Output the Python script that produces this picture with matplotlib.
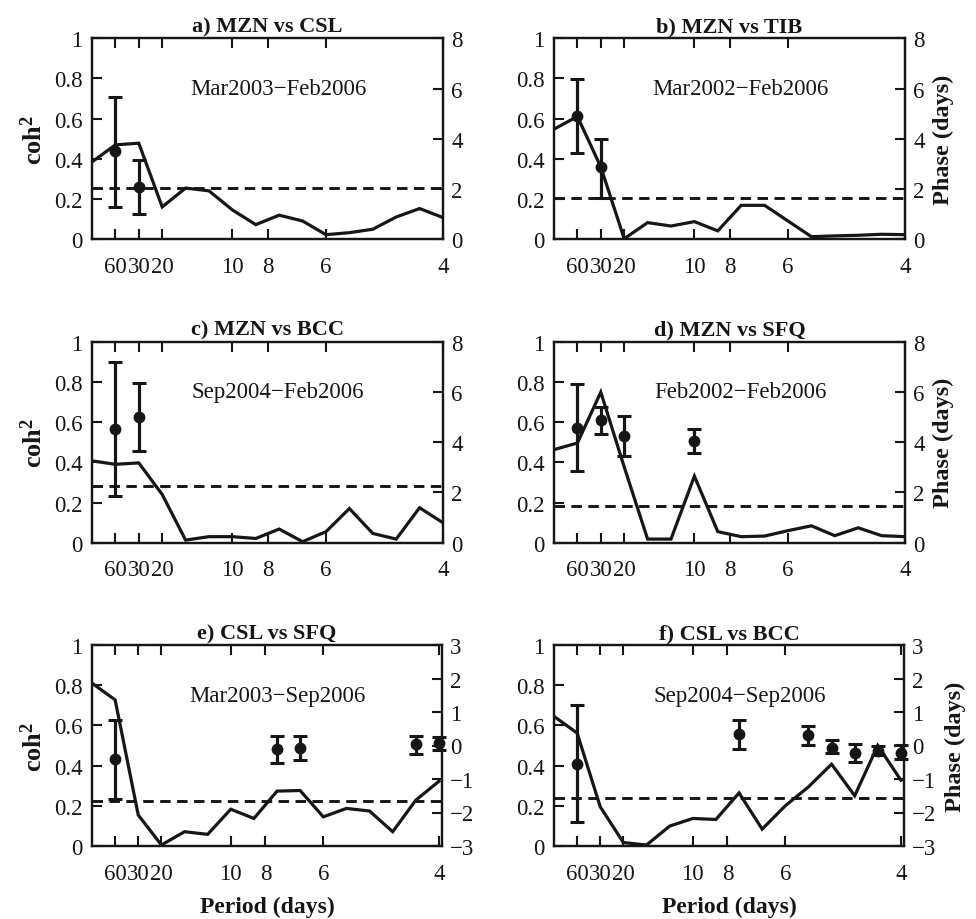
import matplotlib
matplotlib.use('Agg')
import matplotlib.pyplot as plt

plt.rcParams['font.family'] = ['Liberation Serif', 'DejaVu Serif']
plt.rcParams['mathtext.fontset'] = 'custom'
plt.rcParams['mathtext.rm'] = 'Liberation Serif'
plt.rcParams['mathtext.bf'] = 'Liberation Serif:bold'

# frequency (cycles/day) of each spectral estimate
freq = [0.0, 0.01667, 0.03333, 0.05, 0.06667, 0.08333, 0.1, 0.11667,
        0.13333, 0.15, 0.16667, 0.18333, 0.2, 0.21667, 0.23333, 0.25]
period_ticks = [60, 30, 20, 10, 8, 6, 4]

titles = ['a) MZN vs CSL', 'b) MZN vs TIB', 'c) MZN vs BCC',
          'd) MZN vs SFQ', 'e) CSL vs SFQ', 'f) CSL vs BCC']
periods_txt = ['Mar2003\u2212Feb2006', 'Mar2002\u2212Feb2006', 'Sep2004\u2212Feb2006',
               'Feb2002\u2212Feb2006', 'Mar2003\u2212Sep2006', 'Sep2004\u2212Sep2006']

coh_a = [0.385, 0.47, 0.478, 0.161, 0.255, 0.241, 0.146, 0.073, 0.12, 0.091,
         0.023, 0.033, 0.05, 0.111, 0.153, 0.108]
coh_b = [0.548, 0.611, 0.36, 0.003, 0.083, 0.066, 0.088, 0.042, 0.169, 0.169,
         0.091, 0.013, 0.017, 0.02, 0.025, 0.023]
coh_c = [0.407, 0.39, 0.397, 0.24, 0.013, 0.03, 0.03, 0.021, 0.068, 0.005,
         0.055, 0.17, 0.046, 0.018, 0.174, 0.099]
coh_d = [0.463, 0.496, 0.749, 0.377, 0.018, 0.018, 0.331, 0.055, 0.03, 0.033,
         0.06, 0.084, 0.035, 0.074, 0.035, 0.03]
coh_e = [0.81, 0.727, 0.154, 0.005, 0.071, 0.058, 0.183, 0.137, 0.273, 0.276,
         0.145, 0.187, 0.174, 0.071, 0.228, 0.322]
coh_f = [0.645, 0.562, 0.195, 0.017, 0.005, 0.099, 0.137, 0.132, 0.264, 0.084,
         0.2, 0.294, 0.407, 0.25, 0.50, 0.327]

sig_a, sig_b, sig_c, sig_d, sig_e, sig_f = 0.257, 0.204, 0.283, 0.183, 0.225, 0.24

# phase estimates (days) at significant frequencies: index, centre, lower, upper
ph_idx_a = [1, 2];   ph_a = [3.52, 2.09]; ph_lo_a = [1.30, 1.00]; ph_hi_a = [5.67, 3.15]
ph_idx_b = [1, 2];   ph_b = [4.92, 2.86]; ph_lo_b = [3.43, 1.63]; ph_hi_b = [6.38, 4.01]
ph_idx_c = [1, 2];   ph_c = [4.51, 5.00]; ph_lo_c = [1.85, 3.65]; ph_hi_c = [7.21, 6.36]
ph_idx_d = [1, 2, 3, 6]
ph_d = [4.56, 4.87, 4.23, 4.03]
ph_lo_d = [2.84, 4.34, 3.45, 3.57]
ph_hi_d = [6.32, 5.40, 5.06, 4.54]
ph_idx_e = [1, 8, 9, 14, 15]
ph_e = [-0.41, -0.11, -0.06, 0.03, 0.065]
ph_lo_e = [-1.60, -0.51, -0.42, -0.26, -0.12]
ph_hi_e = [0.75, 0.29, 0.29, 0.27, 0.24]
ph_idx_f = [1, 8, 11, 12, 13, 14, 15]
ph_f = [-0.54, 0.33, 0.30, -0.06, -0.21, -0.16, -0.21]
ph_lo_f = [-2.28, -0.09, 0.01, -0.21, -0.49, -0.29, -0.39]
ph_hi_f = [1.20, 0.75, 0.58, 0.15, 0.05, -0.01, 0.01]

cohs = [coh_a, coh_b, coh_c, coh_d, coh_e, coh_f]
sigs = [sig_a, sig_b, sig_c, sig_d, sig_e, sig_f]
phs = [(ph_idx_a, ph_a, ph_lo_a, ph_hi_a), (ph_idx_b, ph_b, ph_lo_b, ph_hi_b),
       (ph_idx_c, ph_c, ph_lo_c, ph_hi_c), (ph_idx_d, ph_d, ph_lo_d, ph_hi_d),
       (ph_idx_e, ph_e, ph_lo_e, ph_hi_e), (ph_idx_f, ph_f, ph_lo_f, ph_hi_f)]

W, H = 976, 920
fig = plt.figure(figsize=(W / 100, H / 100), dpi=100)

lefts = [92, 554]
tops = [39.3, 342.7, 646]
axh = 201
FS = 16.5
INK = '#161616'

for i in range(6):
    row, col = divmod(i, 2)
    wpx = 351 if row < 2 else 350
    x0 = lefts[col]
    y_top = tops[row]
    ax = fig.add_axes([x0 / W, (H - y_top - axh) / H, wpx / W, axh / H])
    ax2 = ax.twinx()
    xmax = 0.25 if row < 2 else 0.2522
    ax.plot(freq, cohs[i], color=INK, lw=2.3, solid_joinstyle='miter', zorder=3)
    ax.axhline(sigs[i], color=INK, lw=2.1, dashes=(3.6, 2.2), zorder=2)
    ax.set_xlim(0, xmax)
    ax.set_ylim(0, 1)
    ax.set_yticks([0, 0.2, 0.4, 0.6, 0.8, 1.0])
    ax.set_yticklabels(['0', '0.2', '0.4', '0.6', '0.8', '1'])
    ax.set_xticks([1.0 / p for p in period_ticks])
    ax.set_xticklabels([str(p) for p in period_ticks])
    ax.tick_params(axis='both', direction='in', labelsize=FS, length=7, width=1.5,
                   top=True, right=False, pad=7, colors=INK)
    ax.tick_params(axis='x', pad=12)

    idx, c, lo, hi = phs[i]
    xs = [freq[k] for k in idx]
    yerr = [[c[j] - lo[j] for j in range(len(c))], [hi[j] - c[j] for j in range(len(c))]]
    ax2.errorbar(xs, c, yerr=yerr, fmt='o', color=INK, ms=7.5, lw=2.3,
                 capsize=5, capthick=2.2, clip_on=False, zorder=4)
    if row < 2:
        ax2.set_ylim(0, 8)
        ax2.set_yticks([0, 2, 4, 6, 8])
    else:
        ax2.set_ylim(-3, 3)
        ax2.set_yticks([-3, -2, -1, 0, 1, 2, 3])
    ax2.tick_params(axis='y', direction='in', labelsize=FS, length=7, width=1.5, pad=6,
                    colors=INK)
    ax2.set_xlim(0, xmax)

    for a in (ax, ax2):
        for s in a.spines.values():
            s.set_linewidth(1.6)
            s.set_color(INK)

    ax.set_title(titles[i], fontsize=16, fontweight='bold', pad=5, color=INK)
    ax.text(0.53, 0.75, periods_txt[i], transform=ax.transAxes, fontsize=16.5,
            ha='center', va='center', color=INK)
    if col == 0:
        ax.set_ylabel(r'$\mathbf{coh^2}$', fontsize=19, labelpad=5, color=INK)
    else:
        ax2.set_ylabel('Phase (days)', fontsize=17.5, fontweight='bold', labelpad=6,
                       color=INK)
    if row == 2:
        ax.set_xlabel('Period (days)', fontsize=17, fontweight='bold', labelpad=9,
                      color=INK)

fig.savefig('out.png', dpi=100)
